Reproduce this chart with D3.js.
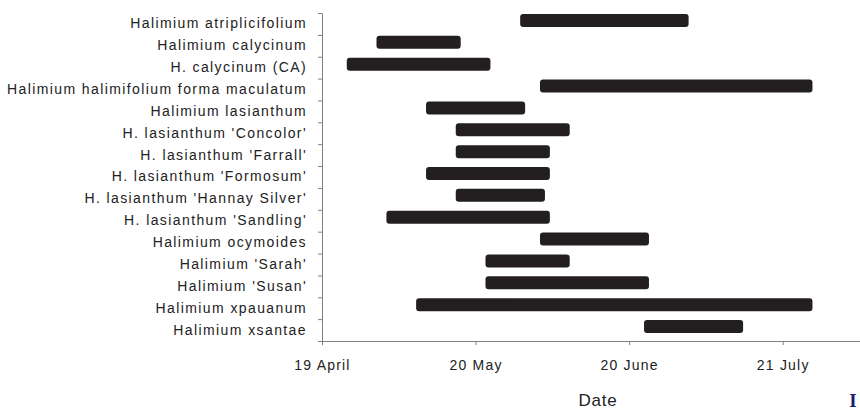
<!DOCTYPE html>
<html>
<head>
<meta charset="utf-8">
<script src="https://cdn.jsdelivr.net/npm/d3@7"></script>
<style>
  body { margin: 0; background: #fff; }
  text { font-family: "Liberation Sans", Arial, sans-serif; }
</style>
</head>
<body>
<div id="canvas"></div>
<script>
// flowering periods of Halimium taxa
const taxa = [
  "Halimium atriplicifolium",
  "Halimium calycinum",
  "H. calycinum (CA)",
  "Halimium halimifolium forma maculatum",
  "Halimium lasianthum",
  "H. lasianthum 'Concolor'",
  "H. lasianthum 'Farrall'",
  "H. lasianthum 'Formosum'",
  "H. lasianthum 'Hannay Silver'",
  "H. lasianthum 'Sandling'",
  "Halimium ocymoides",
  "Halimium 'Sarah'",
  "Halimium 'Susan'",
  "Halimium xpauanum",
  "Halimium xsantae"
];
const startDates = [
  "2001-05-29", "2001-04-30", "2001-04-24", "2001-06-02", "2001-05-10",
  "2001-05-16", "2001-05-16", "2001-05-10", "2001-05-16", "2001-05-02",
  "2001-06-02", "2001-05-22", "2001-05-22", "2001-05-08", "2001-06-23"
];
const endDates = [
  "2001-07-02", "2001-05-17", "2001-05-23", "2001-07-27", "2001-05-30",
  "2001-06-08", "2001-06-04", "2001-06-04", "2001-06-03", "2001-06-04",
  "2001-06-24", "2001-06-08", "2001-06-24", "2001-07-27", "2001-07-13"
];
const tickDates = ["2001-04-19", "2001-05-20", "2001-06-20", "2001-07-21"];
const tickLabels = ["19 April", "20 May", "20 June", "21 July"];
const axisStart = "2001-04-19";
const axisEnd = "2001-08-06";

const width = 860, height = 410;
const margin = { top: 13, left: 322, bottom: 69, right: 0 };
const iheight = height - margin.top - margin.bottom;

const parse = d3.utcParse("%Y-%m-%d");
const data = taxa.map((name, i) => ({ name, start: parse(startDates[i]), end: parse(endDates[i]) }));

const svg = d3.select("#canvas").append("svg")
  .attr("width", width)
  .attr("height", height);

const g = svg.append("g").attr("transform", `translate(${margin.left},${margin.top})`);

// about 4.96 px per day, axis runs off the right edge
const x = d3.scaleUtc()
  .domain([parse(axisStart), parse(axisEnd)])
  .range([0, 540]);

const y = d3.scaleBand()
  .domain(taxa)
  .range([0, iheight]);

const yIdx = d3.scaleLinear().domain([0, taxa.length]).range([0, iheight]);

// bars (sit a little above the band centre)
g.selectAll("rect.bar").data(data).enter().append("rect")
  .attr("class", "bar")
  .attr("x", d => x(d.start))
  .attr("width", d => x(d.end) - x(d.start))
  .attr("y", d => y(d.name) + y.bandwidth() / 2 - 3.5 - 6.5)
  .attr("height", 13)
  .attr("rx", 3)
  .style("fill", "#231f20");

// y axis: ticks on band boundaries
g.append("g")
  .call(d3.axisLeft(yIdx).tickValues(d3.range(taxa.length + 1)).tickFormat("").tickSize(4).tickSizeOuter(0));

// y axis labels
const yLab = g.append("g")
  .call(d3.axisLeft(y).tickSize(0).tickPadding(15));
yLab.select(".domain").remove();
yLab.selectAll("text")
  .style("font-size", "14px")
  .style("letter-spacing", "1.4px")
  .style("fill", "#222");

// x axis
const xAx = g.append("g")
  .attr("transform", `translate(0,${iheight})`)
  .call(d3.axisBottom(x)
    .tickValues(tickDates.map(parse))
    .tickFormat((d, i) => tickLabels[i])
    .tickSize(4).tickSizeOuter(0).tickPadding(15));
xAx.selectAll("text")
  .style("font-size", "14px")
  .style("letter-spacing", "1.2px")
  .style("fill", "#222");

svg.selectAll(".domain, .tick line").attr("stroke", "#808080");

svg.append("text")
  .attr("x", 598)
  .attr("y", 406)
  .attr("text-anchor", "middle")
  .style("font-size", "17px")
  .style("letter-spacing", "0.8px")
  .style("fill", "#222")
  .text("Date");

svg.append("text")
  .attr("x", 853)
  .attr("y", 407)
  .attr("text-anchor", "middle")
  .style("font-family", "'Liberation Serif', serif")
  .style("font-weight", "bold")
  .style("font-size", "19px")
  .style("fill", "#1c1c72")
  .text("I");
</script>
</body>
</html>
